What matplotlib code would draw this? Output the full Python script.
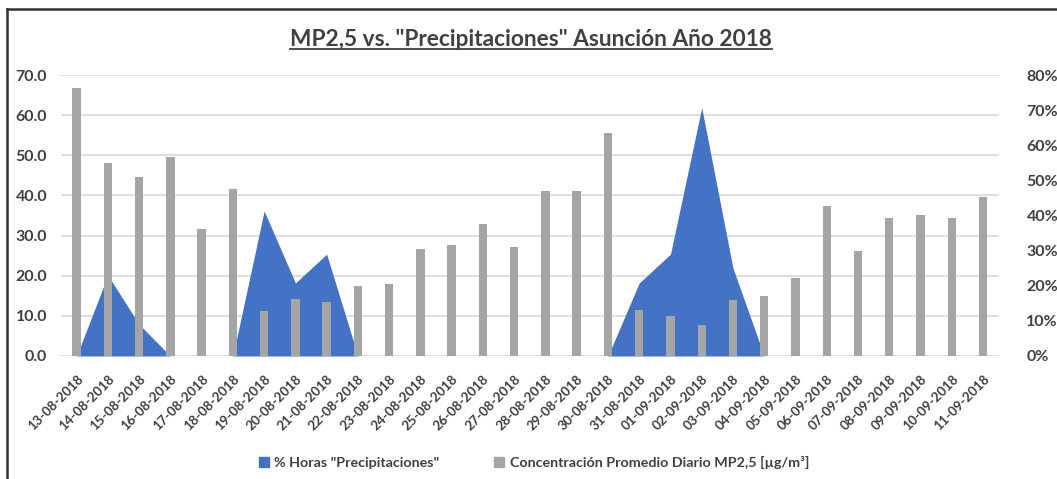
import numpy as np
import matplotlib
matplotlib.use("Agg")
import matplotlib.pyplot as plt
from matplotlib.lines import Line2D
from matplotlib.patches import Patch
from matplotlib.ticker import FuncFormatter, MultipleLocator

plt.rcParams['font.family'] = ['Lato', 'DejaVu Sans']

fechas = ['13-08-2018', '14-08-2018', '15-08-2018', '16-08-2018', '17-08-2018',
          '18-08-2018', '19-08-2018', '20-08-2018', '21-08-2018', '22-08-2018',
          '23-08-2018', '24-08-2018', '25-08-2018', '26-08-2018', '27-08-2018',
          '28-08-2018', '29-08-2018', '30-08-2018', '31-08-2018', '01-09-2018',
          '02-09-2018', '03-09-2018', '04-09-2018', '05-09-2018', '06-09-2018',
          '07-09-2018', '08-09-2018', '09-09-2018', '10-09-2018', '11-09-2018']

# concentracion promedio diario MP2,5 (ug/m3)
mp25 = [66.7, 48.2, 44.7, 49.5, 31.6, 41.7, 11.2, 14.1, 13.5, 17.4,
        17.9, 26.7, 27.6, 32.9, 27.2, 41.0, 41.0, 55.6, 11.5, 10.0,
        7.6, 13.9, 15.0, 19.4, 37.4, 26.2, 34.3, 35.1, 34.5, 39.6]

# % horas con precipitaciones
horas_prec = [0.0, 23.0, 9.0, 0.0, 0.0, 0.0, 41.3, 20.8, 29.0, 0.0,
              0.0, 0.0, 0.0, 0.0, 0.0, 0.0, 0.0, 0.0, 20.8, 29.0,
              70.7, 25.0, 0.0, 0.0, 0.0, 0.0, 0.0, 0.0, 0.0, 0.0]

azul = '#4472C4'
gris = '#A5A5A5'
texto = '#404040'

x = np.arange(len(fechas))
izq_max = 70
der_max = 80

fig = plt.figure(figsize=(10.57, 4.79), dpi=100)
ax = fig.add_axes([0.0577, 0.2568, 0.8871, 0.5866])
ax2 = ax.twinx()
ax2.set_zorder(ax.get_zorder() - 1)
ax.patch.set_visible(False)

# lineas de grilla del eje izquierdo, dibujadas detras del area
for v in range(10, izq_max + 1, 10):
    ax2.axhline(v * der_max / izq_max, color='#D9D9D9', linewidth=1.2, zorder=0)
ax2.axhline(0, color='#D9D9D9', linewidth=1.2, zorder=0)

ax2.fill_between(x, 0, horas_prec, color=azul, linewidth=0, zorder=2)
ax.bar(x, mp25, width=0.27, color=gris, zorder=3)

ax.set_xlim(-0.5, len(fechas) - 0.5)
ax.set_ylim(0, izq_max)
ax2.set_ylim(0, der_max)
ax.yaxis.set_major_locator(MultipleLocator(10))
ax2.yaxis.set_major_locator(MultipleLocator(10))
ax.yaxis.set_major_formatter(FuncFormatter(lambda v, p: f'{v:.1f}'))
ax2.yaxis.set_major_formatter(FuncFormatter(lambda v, p: f'{v:.0f}%'))

for a in (ax, ax2):
    for s in a.spines.values():
        s.set_visible(False)
    a.tick_params(length=0, colors=texto, labelsize=11.5)
ax.tick_params(axis='y', pad=10)
ax2.tick_params(axis='y', pad=20)

ax.set_xticks(x)
ax.set_xticklabels(fechas, rotation=45, ha='right', rotation_mode='anchor',
                   fontsize=9.6, fontweight='bold', color=texto)
for lab in ax.get_yticklabels() + ax2.get_yticklabels():
    lab.set_fontweight('bold')
ax.tick_params(axis='x', pad=12)

titulo = fig.text(0.502, 0.917, 'MP2,5 vs. "Precipitaciones" Asunción Año 2018',
                  ha='center', va='center', fontsize=16.3, fontweight='bold',
                  color=texto)

handles = [Patch(color=azul), Patch(color=gris)]
labels = ['% Horas "Precipitaciones"',
          'Concentración Promedio Diario MP2,5 [µg/m³]']
fig.legend(handles, labels, loc='center', bbox_to_anchor=(0.505, 0.035),
           ncol=2, frameon=False, handlelength=0.7, handleheight=0.7,
           handletextpad=0.4, columnspacing=3.8,
           prop={'size': 10.3, 'weight': 'bold'}, labelcolor=texto)

# subrayado del titulo
fig.canvas.draw()
bb = titulo.get_window_extent().transformed(fig.transFigure.inverted())
fig.add_artist(Line2D([bb.x0, bb.x1], [bb.y0 + 0.002, bb.y0 + 0.002],
                      color=texto, linewidth=1.3, transform=fig.transFigure))

# marco de la captura
fig.add_artist(Line2D([0.0066, 0.0066], [0.0, 0.981], color='#333333',
                      linewidth=1.8, transform=fig.transFigure))
fig.add_artist(Line2D([0.0066, 1.0], [0.981, 0.981], color='#333333',
                      linewidth=1.8, transform=fig.transFigure))

fig.savefig('out.png', dpi=100)
